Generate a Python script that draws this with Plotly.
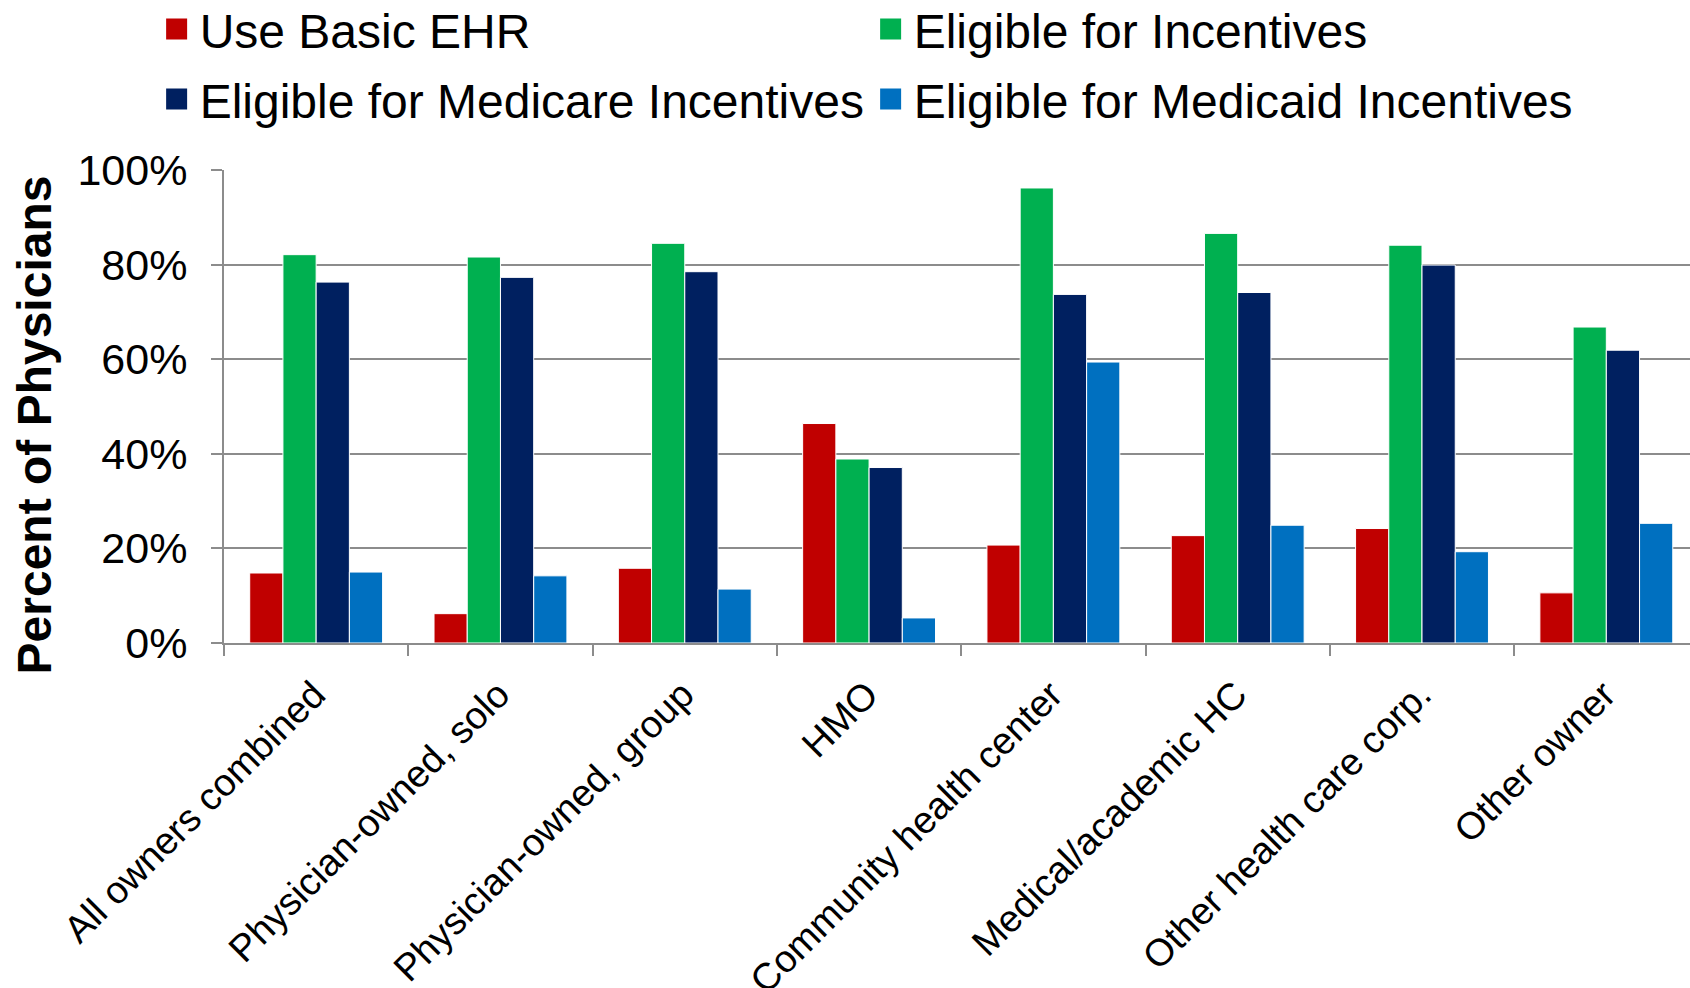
import plotly.graph_objects as go

categories = [
    "All owners combined",
    "Physician-owned, solo",
    "Physician-owned, group",
    "HMO",
    "Community health center",
    "Medical/academic HC",
    "Other health care corp.",
    "Other owner",
]

series_names = [
    "Use Basic EHR",
    "Eligible for Incentives",
    "Eligible for Medicare Incentives",
    "Eligible for Medicaid Incentives",
]

use_basic_ehr = [14.8, 6.2, 15.8, 46.4, 20.7, 22.7, 24.2, 10.6]
eligible_incentives = [82.1, 81.6, 84.5, 38.9, 96.2, 86.6, 84.1, 66.8]
eligible_medicare = [76.3, 77.3, 78.5, 37.1, 73.7, 74.1, 79.9, 61.9]
eligible_medicaid = [15.0, 14.2, 11.4, 5.3, 59.4, 24.9, 19.3, 25.3]

colors = ["#C00000", "#00B050", "#002060", "#0070C0"]
legend_rows = ["legend", "legend", "legend2", "legend2"]

y_ticks = [0, 20, 40, 60, 80, 100]
y_tick_labels = ["0%", "20%", "40%", "60%", "80%", "100%"]
y_title = "Percent of Physicians"

FONT = "Liberation Sans, Arial, Helvetica, sans-serif"

fig = go.Figure()
all_series = [use_basic_ehr, eligible_incentives, eligible_medicare, eligible_medicaid]
for name, vals, col in zip(series_names, all_series, colors):
    fig.add_trace(go.Bar(
        x=categories, y=vals, name=name,
        marker=dict(color=col, line=dict(color="white", width=1)),
        showlegend=False, legendgroup=name,
    ))
# legend entries with larger square swatches (one legend per row)
for name, col, lg in zip(series_names, colors, legend_rows):
    fig.add_trace(go.Scatter(
        x=[None], y=[None], mode="markers", name=name, legendgroup=name,
        marker=dict(symbol="square", size=16, color=col, line=dict(color=col, width=5)),
        showlegend=True, legend=lg,
    ))

legend_common = dict(
    orientation="h", xanchor="left", yanchor="top",
    font=dict(size=48, family=FONT, color="black"),
    entrywidth=663, entrywidthmode="pixels",
    itemwidth=36, bgcolor="rgba(0,0,0,0)", traceorder="normal",
)

fig.update_layout(
    width=1690, height=988,
    margin=dict(l=224, r=0, t=170, b=345, autoexpand=False),
    paper_bgcolor="white", plot_bgcolor="white",
    barmode="group", bargap=0.279, bargroupgap=0,
    font=dict(family=FONT, color="black"),
    legend=dict(x=-0.048, y=1.378, **legend_common),
    legend2=dict(x=-0.048, y=1.230, **legend_common),
    xaxis=dict(
        type="category", range=[-0.5, 7.454],
        tickson="boundaries", ticks="outside", ticklen=11, tickwidth=2, tickcolor="#8C8C8C",
        showline=True, linecolor="#8C8C8C", linewidth=2,
        tickangle=-45, tickfont=dict(size=38, family=FONT, color="black"),
        ticklabelshift=-2, ticklabelstandoff=12,
        showgrid=False, automargin=False,
    ),
    yaxis=dict(
        range=[0, 100], tickmode="array", tickvals=y_ticks, ticktext=y_tick_labels,
        ticks="outside", ticklen=11, tickwidth=2, tickcolor="#8C8C8C",
        showline=True, linecolor="#8C8C8C", linewidth=2,
        showgrid=True, gridcolor="#8C8C8C", gridwidth=2,
        tickfont=dict(size=43, family=FONT, color="black"),
        ticklabelstandoff=15,
        automargin=False, zeroline=False,
    ),
    annotations=[dict(
        text="<b>" + y_title + "</b>", textangle=-90,
        xref="paper", yref="paper", x=-0.1296, y=0.46,
        xanchor="center", yanchor="middle", showarrow=False,
        font=dict(size=48, family=FONT, color="black"),
    )],
)

fig.write_html(
    "out.html",
    config={"displayModeBar": False},
    post_script="document.body.style.margin='0px';",
)
